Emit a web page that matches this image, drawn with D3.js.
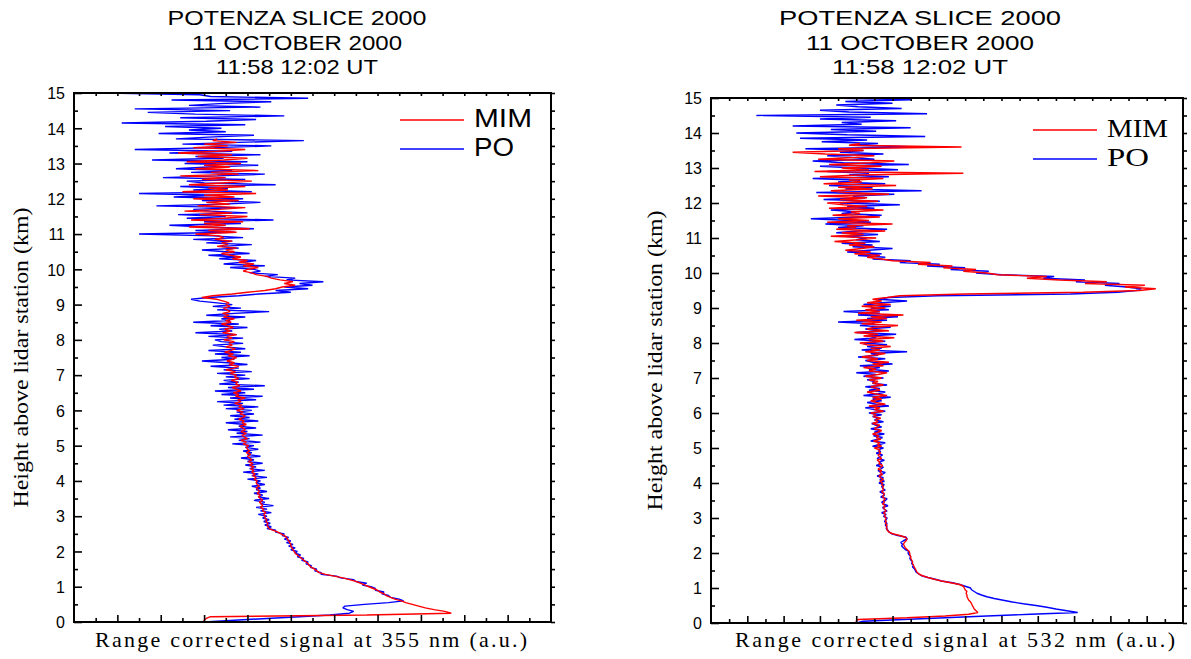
<!DOCTYPE html>
<html lang="en">
<head>
<meta charset="UTF-8">
<title>Potenza slice 2000 - lidar profiles</title>
<script src="https://d3js.org/d3.v7.min.js"></script>
<style>
  * { margin: 0; padding: 0; box-sizing: border-box; }
  body { background: #fff; }
  .title { font-family: "Liberation Sans", Arial, sans-serif; font-size: 21px; fill: #000; text-anchor: middle; }
  .tick text { font-family: "Liberation Sans", Arial, sans-serif; font-size: 16px; fill: #000; }
  .axis-title { font-family: "Liberation Serif", "Times New Roman", serif; font-size: 22px; fill: #000; }
</style>
</head>
<body>
<div id="chart"></div>
<script>
// ---- data (x values in arbitrary units, one value per 0.05 km height bin) ----
const titleLines = ["POTENZA SLICE 2000", "11 OCTOBER 2000", "11:58 12:02 UT"];
const heightStep = 0.05;
const heightTicks = [0, 1, 2, 3, 4, 5, 6, 7, 8, 9, 10, 11, 12, 13, 14, 15];
const seriesNames = ["MIM", "PO"];
const xLabels = ["Range corrected signal at 355 nm (a.u.)", "Range corrected signal at 532 nm (a.u.)"];
const yLabel = "Height above lidar station (km)";

// 355 nm, MIM (0 - 13.7 km)
const mim355 = [
  6.0, 6.0, 6.1, 6.3, 13.5, 17.4, 17.1, 16.6, 16.2, 15.9, 15.6, 15.3, 15.1, 14.8, 14.6, 14.4, 14.3, 14.1, 14.0, 13.8,
  13.6, 13.4, 13.2, 13.0, 12.7, 12.4, 12.0, 11.6, 11.3, 11.2, 11.1, 10.95, 10.85, 10.8, 10.7, 10.6, 10.5, 10.4, 10.3, 10.2,
  10.15, 10.1, 10.05, 10.0, 10.0, 9.95, 9.9, 9.85, 9.8, 9.7, 9.55, 9.4, 9.2, 9.0, 8.95, 8.9, 8.95, 8.85, 8.9, 8.8,
  8.8, 8.75, 8.85, 8.7, 8.75, 8.6, 8.7, 8.65, 8.55, 8.7, 8.6, 8.5, 8.6, 8.45, 8.55, 8.5, 8.4, 8.55, 8.45, 8.4,
  8.45, 8.3, 8.4, 8.25, 8.35, 8.2, 8.3, 8.15, 8.3, 8.1, 8.25, 8.05, 8.2, 8.1, 8.0, 8.15, 7.95, 8.1, 8.0, 7.95,
  8.05, 7.8, 7.95, 7.7, 8.0, 7.85, 7.75, 7.95, 7.7, 7.9, 7.8, 7.65, 7.95, 7.75, 7.85, 7.6, 7.8, 7.9, 7.65, 7.8,
  7.5, 7.85, 7.6, 7.75, 7.4, 7.7, 7.55, 7.9, 7.45, 7.6, 7.35, 7.7, 7.5, 7.3, 7.65, 7.45, 7.55, 7.25, 7.6, 7.4,
  7.5, 7.2, 7.45, 7.0, 7.35, 7.6, 7.15, 7.4, 7.05, 7.3, 7.5, 7.1, 7.35, 6.95, 7.25, 7.45, 7.0, 7.3, 7.15, 7.4,
  6.9, 7.3, 7.05, 7.5, 6.85, 7.2, 6.95, 7.35, 7.1, 6.8, 7.25, 7.0, 7.4, 6.9, 7.15, 6.85, 7.2, 7.05, 6.9, 7.2,
  7.0, 7.15, 6.9, 6.6, 5.9, 6.4, 7.3, 8.0, 8.8, 9.3, 9.6, 10.2, 9.7, 10.1, 9.5, 9.1, 8.9, 8.4, 8.2, 7.8,
  8.0, 8.5, 7.8, 8.3, 7.6, 8.0, 7.3, 7.7, 7.2, 6.8, 7.4, 7.0, 7.5, 6.6, 7.1, 6.8, 7.3, 6.5, 6.9, 6.7,
  5.6, 7.5, 6.2, 8.1, 5.3, 7.0, 6.0, 7.8, 5.4, 6.9, 8.0, 5.8, 7.3, 5.1, 6.7, 7.9, 5.7, 7.2, 6.1, 7.6,
  5.5, 7.4, 6.0, 8.4, 5.0, 7.1, 6.2, 7.9, 5.3, 6.8, 8.2, 5.9, 7.0, 4.9, 7.6, 6.3, 8.5, 5.6, 7.2, 6.0,
  7.7, 5.2, 6.9, 8.0, 5.7, 7.3, 4.8, 6.6, 7.9, 5.5, 7.1, 6.0, 7.5, 6.4, 6.6
];

// 355 nm, PO (0 - 15 km)
const po355 = [
  6.0, 7.4, 8.9, 10.4, 11.8, 12.7, 12.9, 12.6, 12.4, 12.5, 13.4, 14.5, 15.2, 15.0, 14.6, 14.5, 14.2, 14.3, 13.9, 13.9,
  13.7, 13.3, 13.5, 13.0, 12.9, 12.3, 12.1, 11.4, 11.4, 11.1, 11.2, 10.9, 10.95, 10.7, 10.8, 10.5, 10.6, 10.3, 10.45, 10.2,
  10.3, 10.0, 10.2, 9.9, 10.1, 9.8, 10.0, 9.7, 9.9, 9.6, 9.7, 9.3, 9.3, 8.9, 9.1, 8.8, 9.05, 8.75, 9.0, 8.7,
  8.9, 8.5, 9.1, 8.6, 8.9, 8.4, 9.2, 8.6, 8.8, 8.3, 9.0, 8.5, 8.7, 8.3, 8.9, 8.4, 8.6, 8.2, 8.8, 8.4,
  8.6, 8.0, 8.9, 8.2, 8.5, 7.8, 8.8, 8.1, 8.4, 7.9, 8.7, 8.0, 8.3, 7.7, 8.6, 8.0, 8.2, 7.8, 8.5, 7.9,
  8.3, 7.3, 8.6, 7.6, 8.1, 7.2, 8.7, 7.5, 8.0, 7.1, 8.4, 7.6, 7.9, 7.0, 8.5, 7.4, 8.1, 7.2, 8.3, 7.5,
  8.2, 7.0, 8.5, 6.9, 7.8, 6.6, 8.4, 7.2, 8.7, 6.8, 7.9, 6.5, 8.3, 7.1, 8.8, 6.7, 7.6, 6.9, 8.1, 7.0,
  7.9, 6.6, 8.2, 6.9, 7.6, 6.3, 8.0, 7.1, 5.9, 7.4, 6.8, 8.1, 6.5, 7.7, 6.2, 7.9, 7.0, 6.4, 7.8, 6.8,
  6.5, 7.8, 6.2, 7.5, 5.6, 7.3, 6.7, 8.0, 6.3, 7.6, 5.5, 7.2, 6.8, 7.9, 6.1, 7.4, 9.0, 6.6, 7.7, 6.4,
  7.3, 6.6, 5.8, 5.4, 6.2, 7.6, 8.5, 10.0, 9.3, 10.8, 9.7, 11.0, 10.4, 11.5, 9.8, 10.2, 8.8, 9.4, 8.1, 8.6,
  8.3, 7.2, 8.8, 6.9, 7.8, 8.4, 6.7, 7.5, 6.2, 8.1, 7.0, 5.9, 7.6, 6.8, 8.2, 6.1, 7.3, 5.5, 7.8, 6.4,
  3.0, 7.4, 5.6, 8.3, 6.1, 4.4, 7.7, 6.0, 9.2, 5.2, 7.0, 4.8, 8.0, 6.3, 5.5, 7.5, 3.8, 6.9, 8.6, 5.9,
  7.8, 4.6, 6.7, 3.0, 8.2, 5.5, 7.1, 4.9, 9.3, 6.0, 5.2, 7.9, 4.1, 6.6, 8.8, 5.4, 7.3, 4.7, 6.2, 8.5,
  5.1, 8.0, 3.6, 6.9, 5.6, 8.6, 4.4, 7.3, 2.8, 6.5, 9.1, 5.0, 7.6, 10.6, 4.7, 6.2, 8.3, 3.9, 7.0, 5.3,
  6.8, 4.2, 7.9, 2.2, 6.1, 8.4, 4.9, 9.7, 5.6, 3.4, 7.2, 2.8, 8.6, 5.3, 6.7, 9.1, 4.5, 10.8, 6.3, 5.8, 1.5
];

// 532 nm, MIM (0 - 13.7 km)
const mim532 = [
  8.0, 8.0, 8.1, 10.8, 12.9, 14.2, 14.7, 14.6, 14.5, 14.45, 14.4, 14.35, 14.3, 14.2, 14.15, 14.1, 14.1, 14.05, 14.1, 14.0,
  13.95, 13.9, 13.7, 13.2, 12.7, 12.3, 11.95, 11.65, 11.45, 11.35, 11.3, 11.25, 11.2, 11.15, 11.1, 11.1, 11.05, 11.0, 11.0, 10.95,
  10.95, 10.9, 10.8, 10.7, 10.65, 10.6, 10.65, 10.75, 10.8, 10.7, 10.4, 10.0, 9.8, 9.7, 9.7, 9.65, 9.7, 9.6, 9.65, 9.6,
  9.65, 9.55, 9.6, 9.5, 9.65, 9.55, 9.5, 9.6, 9.45, 9.55, 9.5, 9.6, 9.45, 9.5, 9.55, 9.4, 9.5, 9.45, 9.5, 9.4,
  9.45, 9.3, 9.5, 9.35, 9.25, 9.45, 9.3, 9.4, 9.2, 9.35, 9.45, 9.25, 9.3, 9.15, 9.4, 9.3, 9.2, 9.35, 9.25, 9.3,
  9.0, 9.4, 9.15, 9.3, 8.95, 9.35, 9.1, 9.25, 8.9, 9.2, 9.4, 9.0, 9.15, 9.3, 8.9, 9.2, 9.05, 9.35, 8.95, 9.1,
  8.8, 9.5, 9.0, 9.3, 8.7, 9.6, 9.1, 8.8, 9.4, 8.9, 9.7, 9.0, 8.6, 9.3, 9.1, 8.8, 9.5, 8.9, 9.2, 8.7,
  9.4, 8.5, 9.2, 9.7, 8.7, 9.1, 8.4, 9.5, 8.9, 9.8, 8.6, 9.2, 8.3, 9.0, 9.6, 8.5, 9.3, 8.8, 9.9, 8.6,
  8.2, 9.5, 8.7, 10.1, 8.4, 9.2, 7.9, 9.8, 8.6, 9.0, 10.3, 8.3, 9.4, 8.0, 9.7, 8.8, 10.6, 8.1, 9.3, 8.5,
  9.6, 8.3, 9.9, 8.6, 9.4, 8.9, 9.7, 10.4, 14.0, 20.5, 23.6, 24.5, 22.8, 23.9, 20.6, 21.8, 19.2, 17.4, 18.5, 15.8,
  15.2, 13.9, 14.6, 12.8, 13.3, 11.4, 12.1, 10.0, 9.4, 8.6, 9.3, 7.9, 8.8, 7.4, 8.3, 9.0, 7.6, 8.5, 6.8, 8.1,
  9.1, 6.6, 8.4, 7.2, 9.6, 6.9, 8.0, 7.5, 10.0, 6.4, 8.7, 7.0, 9.3, 6.7, 8.2, 7.7, 9.5, 6.5, 8.6, 7.3,
  6.4, 9.2, 7.1, 8.6, 5.9, 9.8, 7.4, 6.6, 8.9, 7.0, 10.2, 6.2, 8.3, 7.6, 9.5, 6.0, 8.1, 13.9, 5.7, 8.7,
  7.2, 9.4, 6.5, 8.8, 10.1, 5.9, 7.9, 9.0, 6.3, 4.5, 8.4, 7.0, 13.8, 7.6, 8.2
];

// 532 nm, PO (0 - 15 km)
const po532 = [
  8.0, 8.4, 10.6, 12.9, 15.2, 17.6, 20.2, 19.6, 19.0, 18.5, 17.9, 17.2, 16.6, 16.1, 15.6, 15.2, 14.9, 14.65, 14.5, 14.35,
  14.3, 14.0, 13.7, 13.3, 12.7, 12.35, 11.95, 11.6, 11.45, 11.3, 11.25, 11.2, 11.1, 11.15, 11.05, 11.1, 11.0, 10.95, 11.0, 10.9,
  10.85, 10.9, 10.7, 10.6, 10.5, 10.55, 10.45, 10.6, 10.8, 10.75, 10.3, 9.95, 9.8, 9.75, 9.65, 9.7, 9.6, 9.7, 9.55, 9.65,
  9.7, 9.5, 9.65, 9.4, 9.7, 9.55, 9.45, 9.75, 9.5, 9.4, 9.6, 9.7, 9.35, 9.55, 9.5, 9.3, 9.6, 9.45, 9.4, 9.55,
  9.25, 9.55, 9.3, 9.5, 9.15, 9.45, 9.6, 9.2, 9.35, 9.5, 9.1, 9.4, 9.25, 9.55, 9.15, 9.3, 9.45, 9.1, 9.35, 9.2,
  9.5, 8.9, 9.3, 9.6, 8.8, 9.2, 9.45, 8.95, 9.55, 9.0, 9.3, 8.8, 9.4, 9.1, 8.85, 9.5, 9.0, 9.25, 8.9, 9.4,
  8.7, 9.6, 9.0, 8.5, 9.8, 9.1, 8.6, 9.4, 8.9, 9.9, 8.4, 9.2, 9.6, 8.7, 9.3, 8.5, 9.7, 8.9, 9.0, 8.6,
  9.5, 8.4, 9.1, 8.0, 9.8, 8.7, 9.3, 8.2, 10.0, 8.9, 8.5, 9.6, 8.1, 9.2, 8.8, 10.8, 8.3, 9.4, 8.6, 9.7,
  8.4, 9.6, 7.9, 9.1, 8.7, 10.2, 8.0, 9.4, 8.5, 9.9, 8.2, 9.0, 7.0, 9.7, 8.6, 10.3, 8.1, 9.3, 7.3, 9.8,
  8.8, 9.9, 8.4, 9.4, 10.8, 9.2, 9.8, 12.5, 19.8, 22.4, 23.4, 23.7, 22.9, 21.7, 22.5, 20.1, 20.6, 18.3, 18.9, 16.0,
  14.6, 15.3, 13.2, 14.0, 11.9, 12.6, 10.4, 11.0, 8.9, 9.6, 8.1, 9.4, 7.5, 8.7, 10.0, 7.8, 8.9, 7.2, 9.3, 8.0,
  8.6, 7.4, 9.2, 6.9, 8.1, 9.7, 7.0, 8.4, 6.3, 8.8, 7.7, 5.5, 8.3, 9.4, 7.2, 8.0, 6.6, 9.0, 7.5, 10.4,
  7.1, 9.3, 6.2, 8.5, 7.8, 10.1, 5.8, 11.6, 7.4, 8.9, 6.5, 9.6, 7.0, 8.2, 5.6, 9.8, 7.6, 8.7, 6.4, 10.3,
  8.1, 6.0, 10.9, 7.3, 5.6, 9.0, 7.8, 6.4, 9.5, 7.1, 8.4, 5.2, 11.4, 7.7, 9.2, 6.1, 8.6, 4.9, 11.8, 7.5,
  4.7, 9.1, 6.6, 11.0, 4.5, 8.3, 7.2, 10.2, 6.0, 8.8, 2.5, 11.9, 7.6, 6.0, 10.5, 8.1, 6.9, 10.0, 7.4, 11.0, 6.6
];

// ---- layout ----
const W = 1191, H = 659;
const sans = '"Liberation Sans", Arial, sans-serif';
const serif = '"Liberation Serif", "Times New Roman", serif';

const panels = [
  { left: 74, right: 551, top: 93, bottom: 622, xMax: 22, mim: mim355, po: po355,
    titleX: 297, titleLen: [259, 210, 162], xLabel: xLabels[0], xLabelX: 95, xLabelLen: 432,
    yLabelX: 28, legend: { x1: 400, x2: 464, y1: 120, y2: 149, tx: 474, font: sans, size: 25, lens: [58, 40] } },
  { left: 711, right: 1183, top: 98, bottom: 623, xMax: 26, mim: mim532, po: po532,
    titleX: 920, titleLen: [282, 228, 176], xLabel: xLabels[1], xLabelX: 735, xLabelLen: 440,
    yLabelX: 662, legend: { x1: 1033, x2: 1097, y1: 130, y2: 159, tx: 1107, font: serif, size: 25, lens: [61, 42] } }
];

const colors = { MIM: "#ff0000", PO: "#0000ff" };

const svg = d3.select("#chart").append("svg")
  .attr("width", W).attr("height", H)
  .style("display", "block");

panels.forEach(p => {
  const x = d3.scaleLinear().domain([0, p.xMax]).range([p.left, p.right]);
  const y = d3.scaleLinear().domain([0, 15]).range([p.bottom, p.top]);
  const g = svg.append("g");

  // title
  titleLines.forEach((t, i) => {
    g.append("text").attr("class", "title")
      .attr("x", p.titleX).attr("y", 25 + i * 24.5)
      .attr("textLength", p.titleLen[i]).attr("lengthAdjust", "spacingAndGlyphs")
      .text(t);
  });

  // profiles: PO below, MIM on top
  const line = d3.line()
    .x(d => x(d))
    .y((d, i) => y(i * heightStep));

  [["PO", p.po], ["MIM", p.mim]].forEach(([name, vals]) => {
    g.append("path")
      .datum(vals)
      .attr("fill", "none")
      .attr("stroke", colors[name])
      .attr("stroke-width", 1.4)
      .attr("stroke-linejoin", "bevel")
      .attr("d", line);
  });

  // axes
  const majorY = heightTicks;
  const minorY = heightTicks.slice(0, -1).map(v => v + 0.5);
  const xUnits = d3.range(1, p.xMax);

  const yAx = g.append("g").attr("transform", `translate(${p.left},0)`)
    .call(d3.axisLeft(y).tickValues(majorY).tickSizeInner(-8).tickSizeOuter(0).tickPadding(9).tickFormat(d3.format("d")));
  g.append("g").attr("transform", `translate(${p.left},0)`)
    .call(d3.axisLeft(y).tickValues(minorY).tickSizeInner(-4).tickSizeOuter(0).tickFormat(""));
  g.append("g").attr("transform", `translate(${p.right},0)`)
    .call(d3.axisRight(y).tickValues(majorY.concat(minorY)).tickSizeInner(4).tickSizeOuter(0).tickFormat(""));
  g.append("g").attr("transform", `translate(0,${p.bottom})`)
    .call(d3.axisBottom(x).tickValues(xUnits.filter(v => v % 2 === 0)).tickSizeInner(-7).tickSizeOuter(0).tickFormat(""));
  g.append("g").attr("transform", `translate(0,${p.bottom})`)
    .call(d3.axisBottom(x).tickValues(xUnits.filter(v => v % 2 === 1)).tickSizeInner(-4).tickSizeOuter(0).tickFormat(""));
  g.append("g").attr("transform", `translate(0,${p.top})`)
    .call(d3.axisTop(x).tickValues(xUnits).tickSizeInner(-3).tickSizeOuter(0).tickFormat(""));

  g.selectAll(".domain").remove();
  g.selectAll(".tick line").attr("stroke", "#000").attr("stroke-width", 1.6);
  yAx.selectAll(".tick text").attr("dy", "0.36em");

  // frame
  g.append("rect")
    .attr("x", p.left).attr("y", p.top)
    .attr("width", p.right - p.left).attr("height", p.bottom - p.top)
    .attr("fill", "none").attr("stroke", "#000").attr("stroke-width", 2);

  // axis titles
  g.append("text").attr("class", "axis-title")
    .attr("x", p.xLabelX).attr("y", 647)
    .attr("textLength", p.xLabelLen).attr("lengthAdjust", "spacing")
    .text(p.xLabel);

  g.append("text").attr("class", "axis-title")
    .attr("transform", `translate(${p.yLabelX},${(p.top + p.bottom) / 2}) rotate(-90)`)
    .attr("text-anchor", "middle")
    .attr("textLength", 300).attr("lengthAdjust", "spacingAndGlyphs")
    .text(yLabel);

  // legend
  const L = p.legend;
  seriesNames.forEach((name, i) => {
    const ly = i === 0 ? L.y1 : L.y2;
    g.append("line")
      .attr("x1", L.x1).attr("x2", L.x2).attr("y1", ly).attr("y2", ly)
      .attr("stroke", colors[name]).attr("stroke-width", 1.3);
    g.append("text")
      .attr("x", L.tx).attr("y", ly + 7)
      .attr("textLength", L.lens[i]).attr("lengthAdjust", "spacingAndGlyphs")
      .style("font-family", L.font).style("font-size", L.size + "px")
      .text(name);
  });
});
</script>
</body>
</html>
